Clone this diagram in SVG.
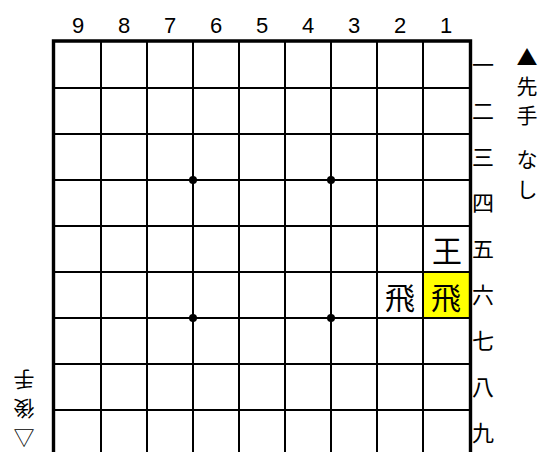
<svg xmlns="http://www.w3.org/2000/svg" width="543" height="452" viewBox="0 0 543 452">
<style>
.g{stroke:#000;stroke-width:2;fill:none}
.b{stroke:#000;stroke-width:3.4;fill:none}
.num{font-family:"Liberation Sans","DejaVu Sans",sans-serif;font-size:22px;text-anchor:middle;fill:#000}
.row{font-family:"Noto Sans CJK JP","Noto Sans CJK SC",sans-serif;font-size:22px;fill:#000;dominant-baseline:central}
.side{font-family:"Noto Sans CJK JP","Noto Sans CJK SC",sans-serif;font-size:21px;fill:#000;text-anchor:middle;dominant-baseline:central}
.pc{font-family:"Noto Sans CJK JP","Noto Sans CJK SC",sans-serif;font-size:30px;fill:#000;text-anchor:middle;dominant-baseline:central}
</style>
<rect width="543" height="452" fill="#fff"/>
<g id="highlight"><rect x="423" y="272" width="47" height="46" fill="#ffff00"/></g>
<g id="grid">
<path class="g" d="M101 41V452M147 41V452M193 41V452M239 41V452M285 41V452M331 41V452M377 41V452M423 41V452"/>
<path class="g" d="M53 88H471M53 134H471M53 180H471M53 226H471M53 272H471M53 318H471M53 364H471M53 410H471"/>
<path class="b" d="M53.5 452V41H470.5V452"/>
<circle cx="193" cy="180" r="4"/><circle cx="331" cy="180" r="4"/>
<circle cx="193" cy="318" r="4"/><circle cx="331" cy="318" r="4"/>
</g>
<g id="files">
<text class="num" x="78" y="33">9</text><text class="num" x="124" y="33">8</text><text class="num" x="170" y="33">7</text>
<text class="num" x="216" y="33">6</text><text class="num" x="262" y="33">5</text><text class="num" x="308" y="33">4</text>
<text class="num" x="354" y="33">3</text><text class="num" x="400" y="33">2</text><text class="num" x="446" y="33">1</text>
</g>
<g id="ranks">
<text class="row" x="472" y="63">一</text><text class="row" x="472" y="109">二</text><text class="row" x="472" y="155">三</text>
<text class="row" x="472" y="201">四</text><text class="row" x="472" y="247">五</text><text class="row" x="472" y="293">六</text>
<text class="row" x="472" y="339">七</text><text class="row" x="472" y="385">八</text><text class="row" x="472" y="431">九</text>
</g>
<g id="sente">
<text class="side" x="527" y="56">▲</text><text class="side" x="527" y="85">先</text><text class="side" x="527" y="114">手</text>
<text class="side" x="527" y="158">な</text><text class="side" x="527" y="188">し</text>
</g>
<g id="gote" transform="rotate(180 24 410)">
<text class="side" x="24" y="381">△</text><text class="side" x="24" y="410">後</text><text class="side" x="24" y="439">手</text>
</g>
<g id="pieces">
<text class="pc" x="447" y="249">王</text>
<text class="pc" x="400" y="296">飛</text>
<text class="pc" x="446" y="296">飛</text>
</g>
</svg>
